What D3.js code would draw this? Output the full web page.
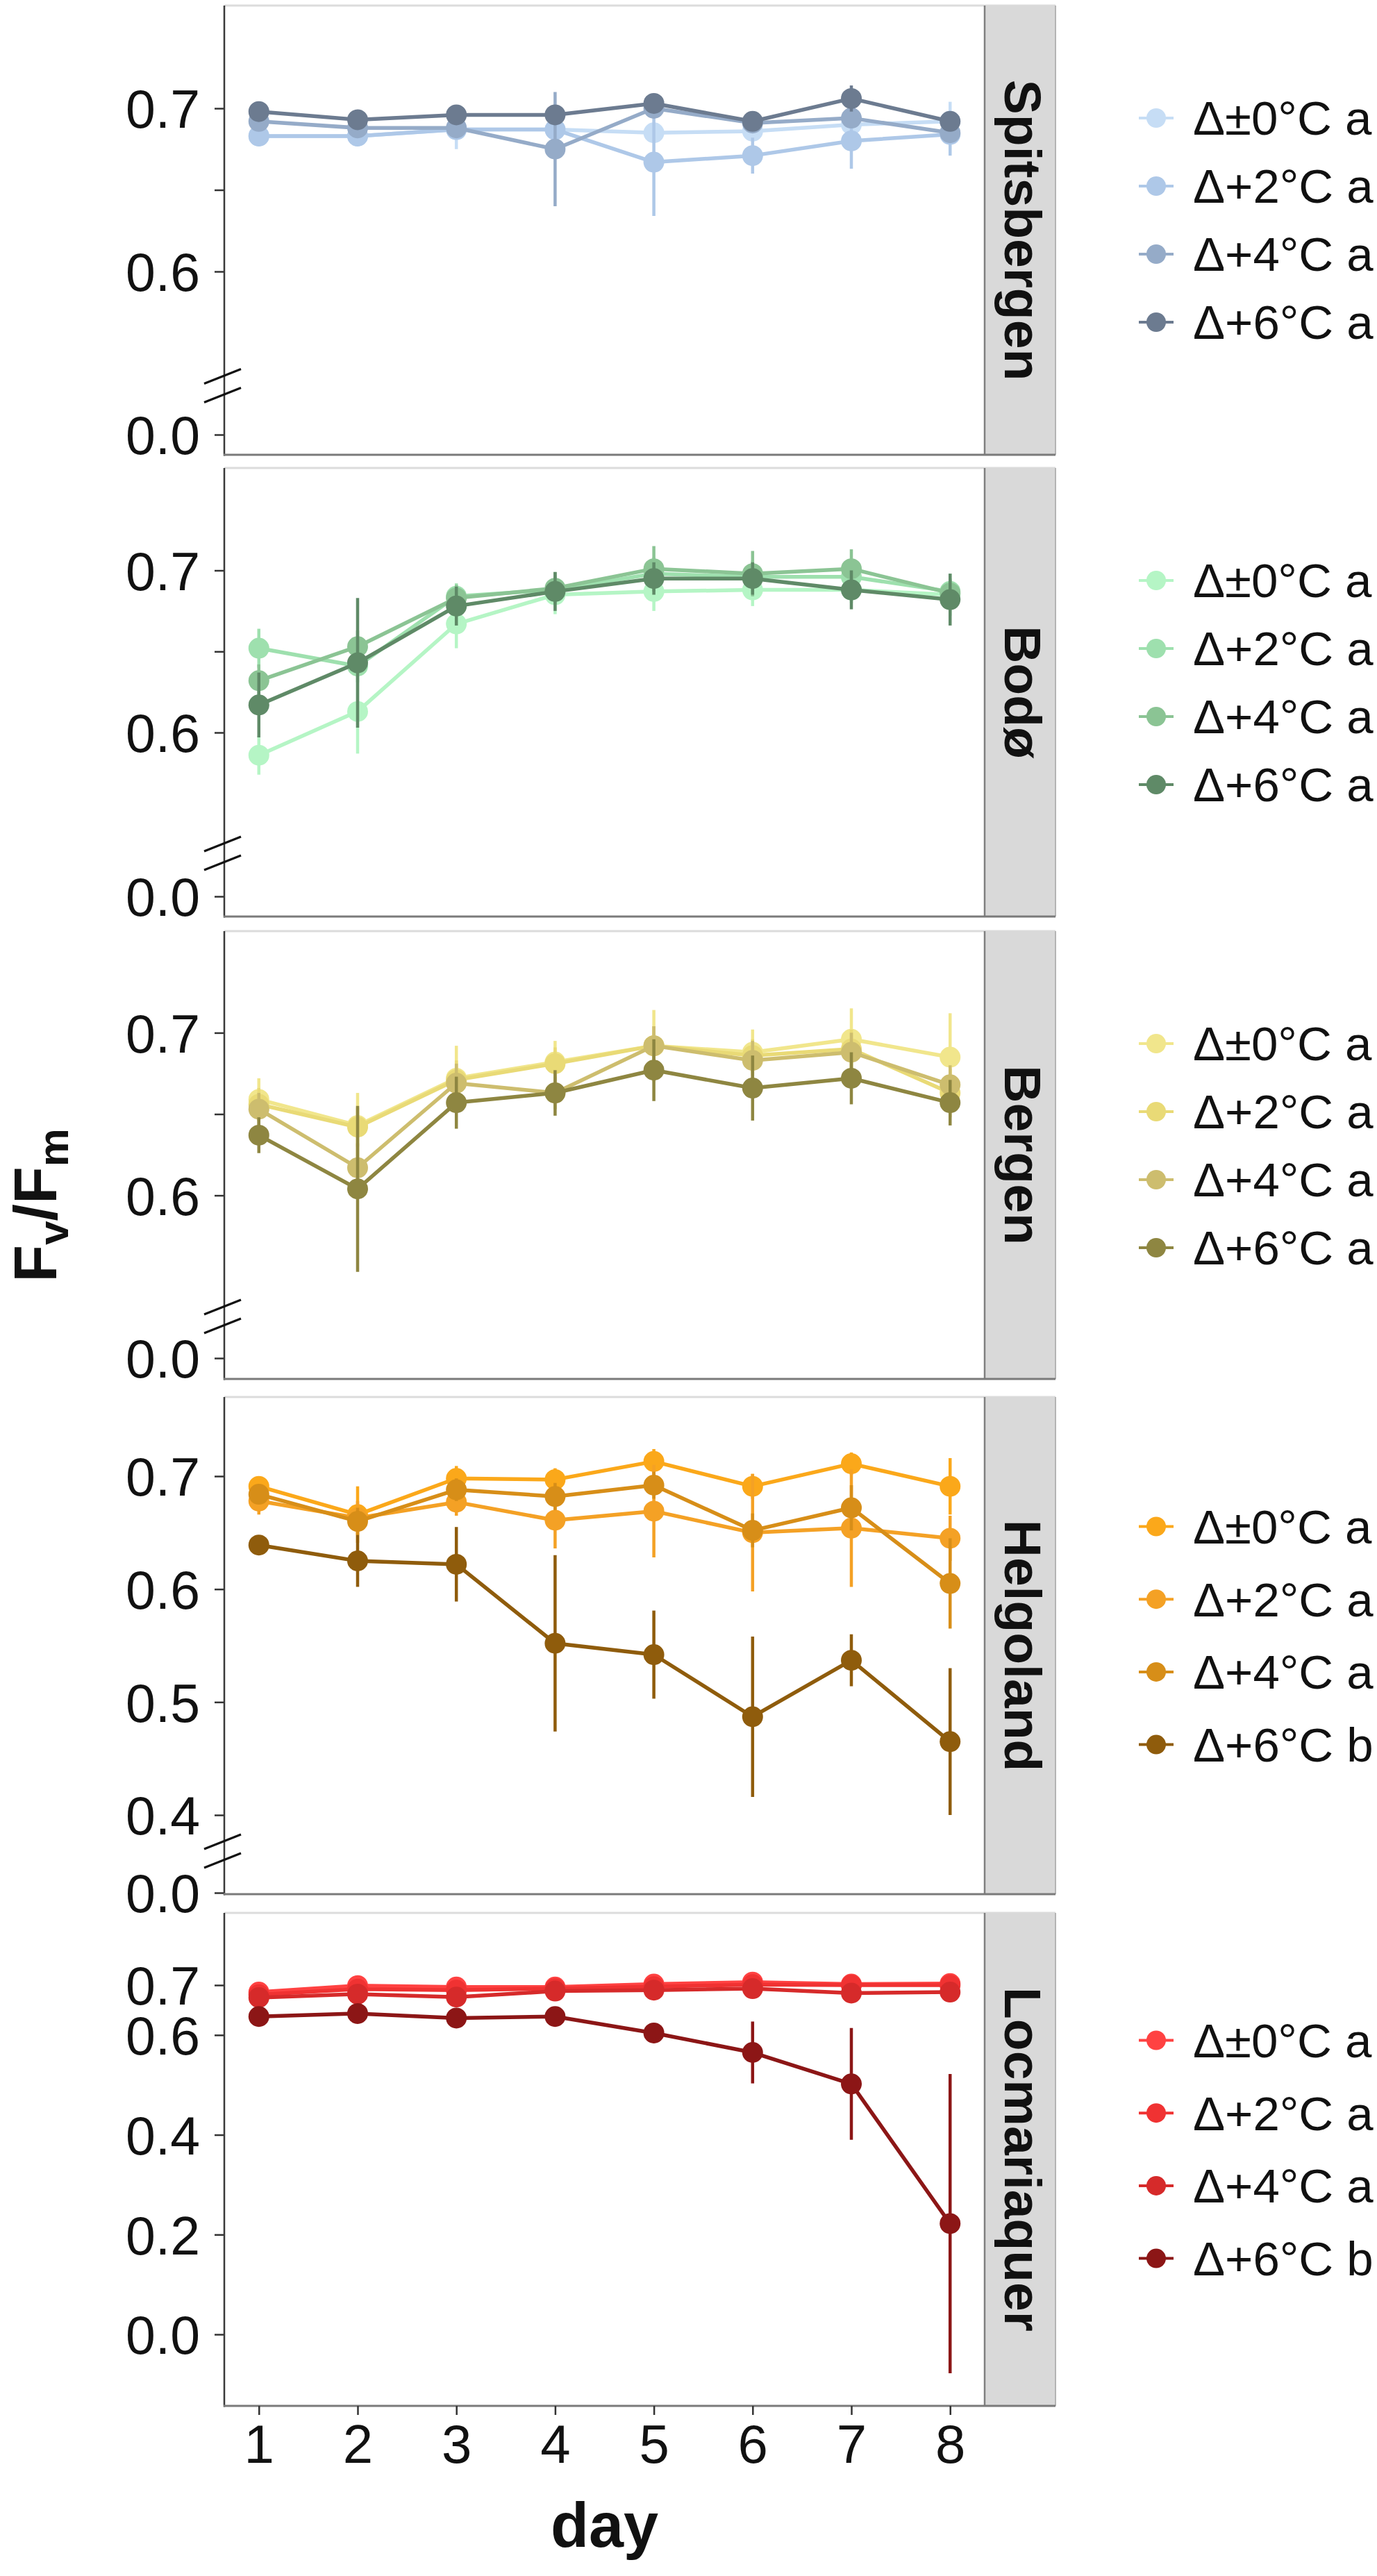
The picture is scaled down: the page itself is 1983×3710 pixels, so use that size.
<!DOCTYPE html>
<html>
<head>
<meta charset="utf-8">
<script src="https://cdn.jsdelivr.net/npm/d3@7/dist/d3.min.js"></script>
<style>
  html, body { margin: 0; padding: 0; background: #ffffff; }
  svg { display: block; }
  text { font-family: "Liberation Sans", Arial, Helvetica, sans-serif; }
</style>
</head>
<body>
<svg id="chart" width="1983" height="3710"></svg>
<script>
// ---------------- DATA ----------------
const days = [1, 2, 3, 4, 5, 6, 7, 8];
const treatments = ["Δ±0°C", "Δ+2°C", "Δ+4°C", "Δ+6°C"];
const sites = ["Spitsbergen", "Bodø", "Bergen", "Helgoland", "Locmariaquer"];

// mean Fv/Fm per treatment (rows: ±0, +2, +4, +6)
const spitsbergenMean = [
  [0.683, 0.683, 0.687, 0.687, 0.685, 0.686, 0.690, 0.692],
  [0.683, 0.683, 0.687, 0.687, 0.667, 0.671, 0.680, 0.684],
  [0.692, 0.688, 0.688, 0.675, 0.700, 0.691, 0.694, 0.685],
  [0.698, 0.693, 0.696, 0.696, 0.703, 0.692, 0.706, 0.692]
];
const spitsbergenErr = [
  [0.004, 0.004, 0.012, 0.005, 0.004, 0.004, 0.005, 0.012],
  [0.004, 0.004, 0.005, 0.005, 0.033, 0.011, 0.017, 0.013],
  [0.004, 0.004, 0.006, 0.035, 0.004, 0.004, 0.006, 0.006],
  [0.004, 0.005, 0.005, 0.006, 0.004, 0.004, 0.008, 0.005]
];
const bodoMean = [
  [0.586, 0.613, 0.667, 0.685, 0.687, 0.688, 0.688, 0.685],
  [0.652, 0.641, 0.684, 0.688, 0.698, 0.696, 0.696, 0.687],
  [0.632, 0.653, 0.683, 0.689, 0.701, 0.698, 0.701, 0.686],
  [0.617, 0.643, 0.678, 0.687, 0.695, 0.695, 0.688, 0.682]
];
const bodoErr = [
  [0.012, 0.026, 0.015, 0.012, 0.012, 0.010, 0.008, 0.013],
  [0.012, 0.010, 0.008, 0.008, 0.010, 0.010, 0.010, 0.008],
  [0.010, 0.010, 0.008, 0.010, 0.014, 0.014, 0.012, 0.008],
  [0.020, 0.040, 0.012, 0.012, 0.010, 0.010, 0.012, 0.016]
];
const bergenMean = [
  [0.659, 0.643, 0.672, 0.682, 0.692, 0.688, 0.696, 0.685],
  [0.656, 0.642, 0.671, 0.681, 0.692, 0.686, 0.690, 0.663],
  [0.653, 0.617, 0.669, 0.663, 0.692, 0.683, 0.688, 0.668],
  [0.637, 0.604, 0.657, 0.663, 0.677, 0.666, 0.672, 0.657]
];
const bergenErr = [
  [0.013, 0.020, 0.020, 0.013, 0.022, 0.014, 0.019, 0.027],
  [0.010, 0.012, 0.012, 0.010, 0.012, 0.010, 0.012, 0.015],
  [0.010, 0.015, 0.012, 0.010, 0.012, 0.012, 0.012, 0.012],
  [0.011, 0.051, 0.016, 0.014, 0.019, 0.020, 0.016, 0.014]
];
const helgolandMean = [
  [0.691, 0.666, 0.698, 0.697, 0.713, 0.691, 0.711, 0.691],
  [0.678, 0.663, 0.677, 0.661, 0.669, 0.650, 0.654, 0.645],
  [0.684, 0.660, 0.688, 0.682, 0.692, 0.652, 0.672, 0.605],
  [0.639, 0.625, 0.622, 0.552, 0.542, 0.487, 0.537, 0.465]
];
const helgolandErr = [
  [0.008, 0.025, 0.011, 0.010, 0.011, 0.011, 0.010, 0.025],
  [0.012, 0.015, 0.012, 0.025, 0.041, 0.052, 0.052, 0.020],
  [0.008, 0.012, 0.010, 0.012, 0.012, 0.015, 0.020, 0.040],
  [0.005, 0.023, 0.033, 0.078, 0.039, 0.071, 0.023, 0.065]
];
const locmariaquerMean = [
  [0.686, 0.699, 0.696, 0.696, 0.702, 0.706, 0.702, 0.703],
  [0.681, 0.692, 0.690, 0.693, 0.697, 0.701, 0.700, 0.700],
  [0.675, 0.682, 0.676, 0.688, 0.690, 0.693, 0.684, 0.686],
  [0.637, 0.643, 0.634, 0.637, 0.604, 0.565, 0.502, 0.222]
];
const locmariaquerErr = [
  [0.005, 0.005, 0.005, 0.005, 0.005, 0.005, 0.005, 0.005],
  [0.005, 0.005, 0.005, 0.005, 0.005, 0.005, 0.005, 0.005],
  [0.005, 0.005, 0.005, 0.005, 0.005, 0.005, 0.005, 0.005],
  [0.008, 0.008, 0.008, 0.008, 0.008, 0.062, 0.112, 0.300]
];

// significance letters per site and treatment
const spitsbergenLetters = ["a", "a", "a", "a"];
const bodoLetters = ["a", "a", "a", "a"];
const bergenLetters = ["a", "a", "a", "a"];
const helgolandLetters = ["a", "a", "a", "b"];
const locmariaquerLetters = ["a", "a", "a", "b"];

// y tick values per site (0.65 is an unlabelled tick)
const spitsbergenTicks = [0.0, 0.6, 0.65, 0.7];
const bodoTicks = [0.0, 0.6, 0.65, 0.7];
const bergenTicks = [0.0, 0.6, 0.65, 0.7];
const helgolandTicks = [0.0, 0.4, 0.5, 0.6, 0.7];
const locmariaquerTicks = [0.0, 0.2, 0.4, 0.6, 0.7];
const xTicks = [1, 2, 3, 4, 5, 6, 7, 8];

// ---------------- STYLES / LAYOUT ----------------
const palettes = [
  ["#c6ddf5", "#aec8e8", "#95abc8", "#6c7b90"],
  ["#b5f5c5", "#9ee0ae", "#8bc494", "#5f8a67"],
  ["#f1e68c", "#e9da76", "#cdbd6e", "#8e8641"],
  ["#fba81a", "#f4a125", "#d78e18", "#8f5c0c"],
  ["#ff4242", "#f03232", "#d62a2a", "#8c1616"]
];
// panel geometry: top, bottom, y of 0.7, px per 0.1, y of "0.0" tick, break value (null = no break)
const layout = [
  { top: 8,    bottom: 655,  y07: 156,    px01: 235,    zero: 626,  brk: 0.53,   legTop: 162,   legStep: 98 },
  { top: 674,  bottom: 1320, y07: 821.5,  px01: 233.5,  zero: 1291, brk: 0.5255, legTop: 162,   legStep: 98 },
  { top: 1341, bottom: 1986, y07: 1487.4, px01: 234.2,  zero: 1956, brk: 0.5255, legTop: 162,   legStep: 98 },
  { top: 2012, bottom: 2728, y07: 2126,   px01: 162.67, zero: 2726, brk: 0.368,  legTop: 186.5, legStep: 104.7 },
  { top: 2755, bottom: 3465, y07: 2859,   px01: 71.86,  zero: 3362, brk: null,   legTop: 183.5, legStep: 104.7 }
];
const means = [spitsbergenMean, bodoMean, bergenMean, helgolandMean, locmariaquerMean];
const errs = [spitsbergenErr, bodoErr, bergenErr, helgolandErr, locmariaquerErr];
const letters = [spitsbergenLetters, bodoLetters, bergenLetters, helgolandLetters, locmariaquerLetters];
const ticks = [spitsbergenTicks, bodoTicks, bergenTicks, helgolandTicks, locmariaquerTicks];

const panelLeft = 323, panelRight = 1418, stripRight = 1520;
const FONT = '"Liberation Sans", Arial, Helvetica, sans-serif';

const svg = d3.select("#chart");
const x = d3.scaleLinear().domain([0.65, 8.35]).range([panelLeft, panelRight]);

sites.forEach((site, si) => {
  const L = layout[si];
  const k = L.px01 * 10; // px per 1.0
  const hi = 0.7 + (L.y07 - L.top) / k;
  const lo = -(L.bottom - L.zero) / k;
  let y;
  if (L.brk !== null) {
    const yb = L.y07 + (0.7 - L.brk) * k;
    y = d3.scaleLinear().domain([lo, 0, L.brk, hi]).range([L.bottom, L.zero, yb, L.top]);
  } else {
    y = d3.scaleLinear().domain([lo, hi]).range([L.bottom, L.top]);
  }
  const g = svg.append("g");

  // panel background
  g.append("rect").attr("x", panelLeft).attr("y", L.top)
    .attr("width", panelRight - panelLeft).attr("height", L.bottom - L.top)
    .attr("fill", "#ffffff");
  // top border
  g.append("line").attr("x1", panelLeft).attr("x2", stripRight)
    .attr("y1", L.top).attr("y2", L.top)
    .attr("stroke", "#dcdcdc").attr("stroke-width", 3);

  // strip
  g.append("rect").attr("x", panelRight).attr("y", L.top)
    .attr("width", stripRight - panelRight).attr("height", L.bottom - L.top)
    .attr("fill", "#d9d9d9");
  g.append("line").attr("x1", panelRight).attr("x2", panelRight)
    .attr("y1", L.top).attr("y2", L.bottom)
    .attr("stroke", "#7f7f7f").attr("stroke-width", 2.5);
  g.append("line").attr("x1", stripRight).attr("x2", stripRight)
    .attr("y1", L.top).attr("y2", L.bottom)
    .attr("stroke", "#b4b4b4").attr("stroke-width", 2);
  const cy = (L.top + L.bottom) / 2;
  g.append("text")
    .attr("transform", `translate(1447,${cy}) rotate(90)`)
    .attr("text-anchor", "middle")
    .style("font-family", FONT).style("font-weight", "bold").style("font-size", "75px")
    .attr("fill", "#111")
    .text(site);

  // y axis
  const yAxis = d3.axisLeft(y).tickValues(ticks[si])
    .tickSize(14).tickPadding(21)
    .tickFormat(d => (Math.abs(d - 0.65) < 1e-9 ? "" : d3.format(".1f")(d)));
  const ya = g.append("g").attr("transform", `translate(${panelLeft},0)`).call(yAxis);
  ya.select(".domain").remove();
  ya.selectAll(".tick line").attr("stroke", "#333").attr("stroke-width", 2.5);
  ya.selectAll(".tick text").style("font-family", FONT).style("font-size", "77px")
    .attr("fill", "#111").attr("dy", "0.36em");
  g.append("line").attr("x1", panelLeft).attr("x2", panelLeft)
    .attr("y1", L.top).attr("y2", L.bottom + 1.5)
    .attr("stroke", "#3a3a3a").attr("stroke-width", 2.5);
  // bottom border/axis
  g.append("line").attr("x1", panelLeft - 1).attr("x2", stripRight)
    .attr("y1", L.bottom).attr("y2", L.bottom)
    .attr("stroke", "#7a7a7a").attr("stroke-width", 3);

  // break marks
  if (L.brk !== null) {
    const yc = y(L.brk);
    [-13.5, 13.5].forEach(off => {
      g.append("line")
        .attr("x1", panelLeft - 29).attr("y1", yc + off + 10.5)
        .attr("x2", panelLeft + 24).attr("y2", yc + off - 10.5)
        .attr("stroke", "#111").attr("stroke-width", 3.2);
    });
  }

  // data
  const pal = palettes[si];
  const lineGen = d3.line().x((d, i) => x(days[i])).y(d => y(d));
  means[si].forEach((series, ti) => {
    const col = pal[ti];
    const sg = g.append("g");
    sg.selectAll("line.err").data(series).join("line").attr("class", "err")
      .attr("x1", (d, i) => x(days[i])).attr("x2", (d, i) => x(days[i]))
      .attr("y1", (d, i) => y(d + errs[si][ti][i]))
      .attr("y2", (d, i) => y(d - errs[si][ti][i]))
      .attr("stroke", col).attr("stroke-width", 4.5);
    sg.append("path").datum(series).attr("d", lineGen)
      .attr("fill", "none").attr("stroke", col).attr("stroke-width", 5.5)
      .attr("stroke-linejoin", "round");
    sg.selectAll("circle").data(series).join("circle")
      .attr("cx", (d, i) => x(days[i])).attr("cy", d => y(d))
      .attr("r", 15).attr("fill", col);
  });

  // legend
  const legY0 = L.top + L.legTop;
  treatments.forEach((t, ti) => {
    const ly = legY0 + ti * L.legStep;
    g.append("line").attr("x1", 1640).attr("x2", 1690).attr("y1", ly).attr("y2", ly)
      .attr("stroke", pal[ti]).attr("stroke-width", 4);
    g.append("circle").attr("cx", 1665).attr("cy", ly).attr("r", 14).attr("fill", pal[ti]);
    g.append("text").attr("x", 1718).attr("y", ly).attr("dy", "0.355em")
      .style("font-family", FONT).style("font-size", "69px").attr("fill", "#111")
      .text(t + " " + letters[si][ti]);
  });

  // x axis on last panel
  if (si === sites.length - 1) {
    const xa = g.append("g").attr("transform", `translate(0,${L.bottom})`)
      .call(d3.axisBottom(x).tickValues(xTicks).tickSize(13).tickPadding(14).tickFormat(d3.format("d")));
    xa.select(".domain").remove();
    xa.selectAll(".tick line").attr("stroke", "#333").attr("stroke-width", 2.5);
    xa.selectAll(".tick text").style("font-family", FONT).style("font-size", "78px")
      .attr("fill", "#111");
  }
});

// axis titles
svg.append("text").attr("x", (panelLeft + panelRight) / 2).attr("y", 3668)
  .attr("text-anchor", "middle")
  .style("font-family", FONT).style("font-weight", "bold").style("font-size", "90px")
  .attr("fill", "#111").text("day");

const yt = svg.append("text")
  .attr("transform", "translate(81,1736) rotate(-90)")
  .attr("text-anchor", "middle")
  .style("font-family", FONT).style("font-weight", "bold").style("font-size", "88px")
  .attr("fill", "#111");
yt.append("tspan").text("F");
yt.append("tspan").attr("dy", 17).style("font-size", "62px").text("v");
yt.append("tspan").attr("dy", -17).text("/F");
yt.append("tspan").attr("dy", 17).style("font-size", "62px").text("m");
</script>
</body>
</html>
